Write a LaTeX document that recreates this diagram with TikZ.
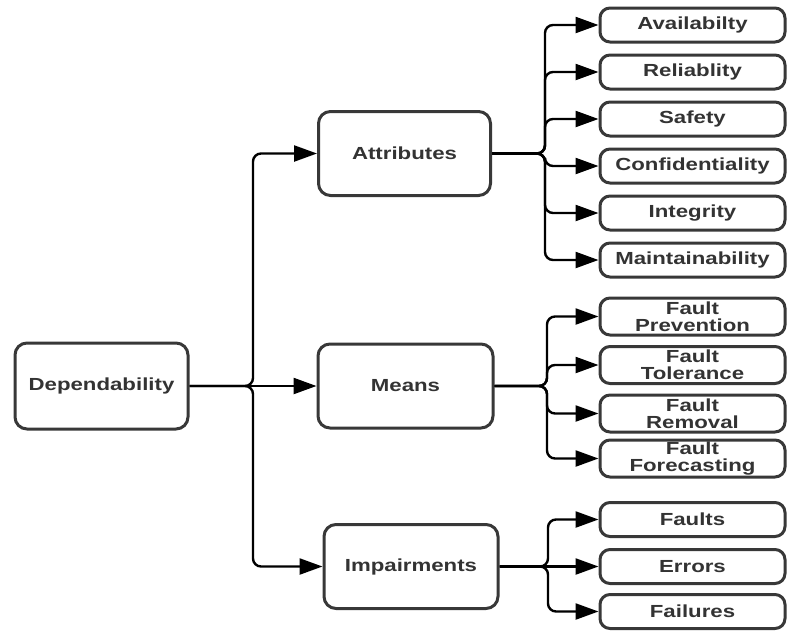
\documentclass[tikz,border=0pt]{standalone}
\usepackage{fontspec}
\setmainfont{Liberation Sans}[FakeStretch=1.27]
\usetikzlibrary{arrows.meta}
\definecolor{boxc}{HTML}{383838}
\definecolor{txtc}{HTML}{333333}
\tikzset{
  box/.style={draw=boxc, line width=3pt, fill=white, text=txtc,
    font=\bfseries\fontsize{17.5}{17}\selectfont, align=center, inner sep=0pt},
  mainbox/.style={box, rounded corners=12pt, minimum width=172pt, minimum height=84pt},
  leafbox/.style={box, rounded corners=10pt, minimum width=185pt, minimum height=34pt},
  tallleaf/.style={leafbox, minimum height=37pt},
  conn/.style={line width=2.4pt, rounded corners=8pt, -{Triangle[length=23pt,width=16pt]}},
}
\begin{document}
\begin{tikzpicture}[x=1pt, y=-1pt]
  \useasboundingbox (0,0) rectangle (787,630);

  % first level
  \node[mainbox, minimum width=173pt, minimum height=86pt] (dep) at (101.5,386) {Dependability};
  \node[mainbox] (att) at (404.5,153.5) {Attributes};
  \node[mainbox, minimum width=175pt] (mea) at (405.5,386) {Means};
  \node[mainbox, minimum width=174pt] (imp) at (411,566.5) {Impairments};

  % attributes
  \node[leafbox] (av) at (692.5,25)  {Availabilty};
  \node[leafbox] (re) at (692.5,72)  {Reliablity};
  \node[leafbox] (sa) at (692.5,119) {Safety};
  \node[leafbox] (co) at (692.5,166) {Confidentiality};
  \node[leafbox] (in) at (692.5,213) {Integrity};
  \node[leafbox] (ma) at (692.5,260) {Maintainability};

  % means
  \node[tallleaf] (fp) at (692.5,316.5) {Fault\\Prevention};
  \node[tallleaf] (ft) at (692.5,365)   {Fault\\Tolerance};
  \node[tallleaf] (fr) at (692.5,413.5) {Fault\\Removal};
  \node[tallleaf] (ff) at (692.5,458.5) {Fault\\Forecasting};

  % impairments
  \node[leafbox] (fa) at (692.5,519.5) {Faults};
  \node[leafbox] (er) at (692.5,566.5) {Errors};
  \node[leafbox] (fl) at (692.5,611.5) {Failures};

  % bus positions
  \coordinate (depbus) at (253,0);
  \coordinate (attbus) at (545,0);
  \coordinate (meabus) at (547,0);
  \coordinate (impbus) at (548,0);

  % connectors
  \draw[conn] (dep.east) -- (dep.east -| depbus) |- (att.west);
  \draw[conn] (dep.east) -- (mea.west);
  \draw[conn] (dep.east) -- (dep.east -| depbus) |- (imp.west);

  \foreach \c in {av,re,sa,co,in,ma}
    \draw[conn] (att.east) -- (att.east -| attbus) |- (\c.west);
  \foreach \c in {fp,ft,fr,ff}
    \draw[conn] (mea.east) -- (mea.east -| meabus) |- (\c.west);
  \foreach \c in {fa,fl}
    \draw[conn] (imp.east) -- (imp.east -| impbus) |- (\c.west);
  \draw[conn] (imp.east) -- (er.west);
\end{tikzpicture}
\end{document}
